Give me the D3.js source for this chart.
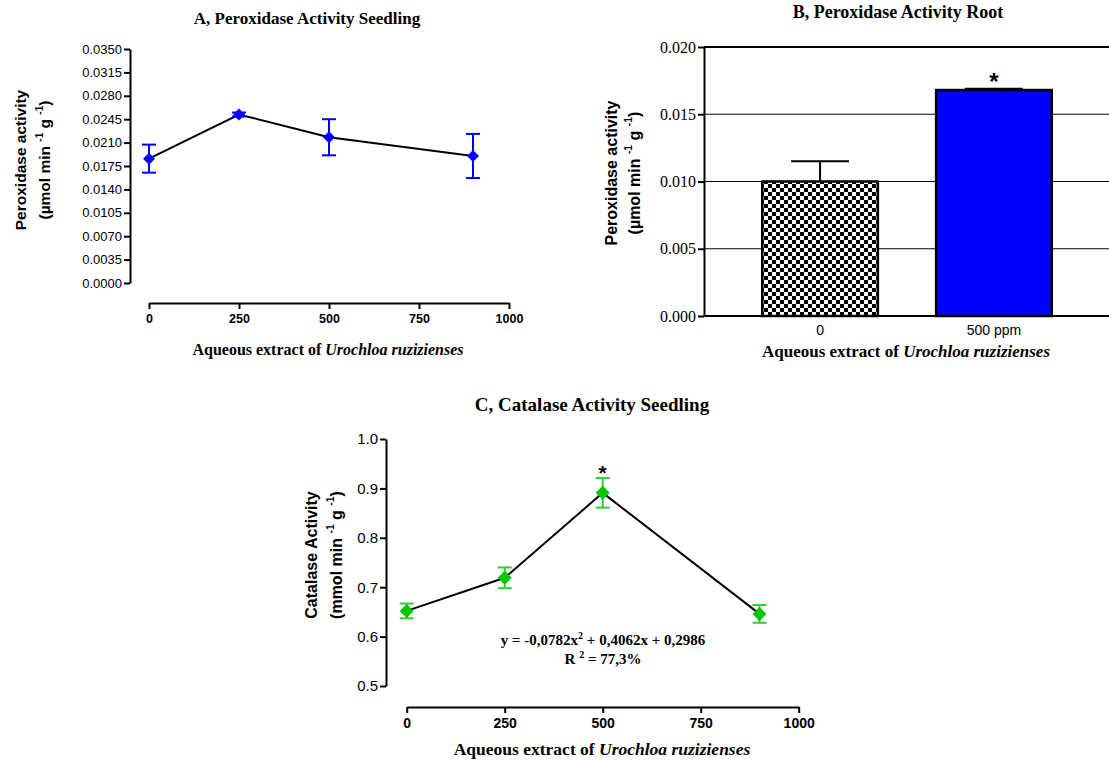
<!DOCTYPE html>
<meta charset="utf-8">
<head>
<style>
body { margin: 0; background: #fff; }
svg { display: block; }
.sans { font-family: "Liberation Sans", Arial, sans-serif; }
.serif { font-family: "Liberation Serif", "Times New Roman", serif; }
</style>
<script src="https://d3js.org/d3.v7.min.js"></script>
</head>
<body>
<div id="chart"></div>
<script>
// panel A - peroxidase, seedling
var doses = [0, 250, 500, 900];
var podSeedling = [0.0186, 0.0252, 0.0218, 0.0190];
var podSeedlingSE = [0.0021, 0.0003, 0.0027, 0.0033];
var podTicks = [0, 0.0035, 0.0070, 0.0105, 0.0140, 0.0175, 0.0210, 0.0245, 0.0280, 0.0315, 0.0350];

// panel B - peroxidase, root
var rootGroups = ["0", "500 ppm"];
var podRoot = [0.0100, 0.0168];
var podRootSE = [0.0015, 0.0001];
var rootSignif = [false, true];
var rootTicks = [0, 0.005, 0.010, 0.015, 0.020];

// panel C - catalase, seedling
var catSeedling = [0.652, 0.719, 0.891, 0.646];
var catSeedlingSE = [0.015, 0.021, 0.030, 0.018];
var catSignif = [false, false, true, false];
var catTicks = [0.5, 0.6, 0.7, 0.8, 0.9, 1.0];
var doseTicks = [0, 250, 500, 750, 1000];

var width = 1109, height = 760;

var svg = d3.select("#chart").append("svg")
    .attr("width", width)
    .attr("height", height);

var defs = svg.append("defs");
var checker = defs.append("pattern")
    .attr("id", "checker")
    .attr("patternUnits", "userSpaceOnUse")
    .attr("width", 8).attr("height", 8);
checker.append("rect").attr("width", 8).attr("height", 8).attr("fill", "#fff");
checker.append("rect").attr("width", 4).attr("height", 4).attr("fill", "#000");
checker.append("rect").attr("x", 4).attr("y", 4).attr("width", 4).attr("height", 4).attr("fill", "#000");

function diamond(r) {
  return "M0," + (-r) + "L" + r + ",0L0," + r + "L" + (-r) + ",0Z";
}

// x axis title with italic species name
function xTitle(g, x, y, size) {
  var t = g.append("text")
      .attr("class", "serif")
      .attr("x", x).attr("y", y)
      .attr("text-anchor", "middle")
      .attr("font-weight", "bold")
      .attr("font-size", size);
  t.append("tspan").text("Aqueous extract of ");
  t.append("tspan").attr("font-style", "italic").text("Urochloa ruzizienses");
}

// two line rotated y title with superscripts
function yTitle(g, x1, x2, y, size, line1, unit) {
  g.append("text")
      .attr("class", "sans")
      .attr("transform", "translate(" + x1 + "," + y + ") rotate(-90)")
      .attr("text-anchor", "middle")
      .attr("font-weight", "bold")
      .attr("font-size", size)
      .attr("dy", "0.35em")
      .text(line1);
  var t = g.append("text")
      .attr("class", "sans")
      .attr("transform", "translate(" + x2 + "," + y + ") rotate(-90)")
      .attr("text-anchor", "middle")
      .attr("font-weight", "bold")
      .attr("font-size", size)
      .attr("dy", "0.35em");
  t.append("tspan").text("(" + unit + " min ");
  t.append("tspan").attr("dy", -size * 0.45).attr("font-size", size * 0.65).text("-1");
  t.append("tspan").attr("dy", size * 0.45).text(" g ");
  t.append("tspan").attr("dy", -size * 0.45).attr("font-size", size * 0.65).text("-1");
  t.append("tspan").attr("dy", size * 0.45).text(")");
}

function styleAxis(g, w) {
  g.select(".domain").attr("stroke", "#000").attr("stroke-width", w);
  g.selectAll(".tick line").attr("stroke", "#000").attr("stroke-width", w);
}

function linePanel(opt) {
  var g = svg.append("g");
  var x = d3.scaleLinear().domain([0, 1000]).range(opt.xRange);
  var y = d3.scaleLinear().domain(opt.yDomain).range(opt.yRange);

  var yAxis = g.append("g")
      .attr("transform", "translate(" + opt.yAxisX + ",0)")
      .call(d3.axisLeft(y).tickValues(opt.yTicks).tickFormat(d3.format(opt.yFormat)).tickSize(6).tickSizeOuter(0).tickPadding(2));
  styleAxis(yAxis, 2);
  yAxis.selectAll("text").attr("class", "sans").attr("font-size", opt.yTickSize).attr("fill", "#000");

  var xAxis = g.append("g")
      .attr("transform", "translate(0," + opt.xAxisY + ")")
      .call(d3.axisBottom(x).tickValues(doseTicks).tickFormat(d3.format("d")).tickSize(6).tickSizeOuter(0).tickPadding(5));
  styleAxis(xAxis, 2);
  xAxis.selectAll("text").attr("class", "sans").attr("font-weight", "bold")
      .attr("font-size", opt.xTickSize).attr("fill", "#000");

  var pts = doses.map(function(d, i) {
    return {dose: d, v: opt.values[i], se: opt.se[i], sig: opt.signif ? opt.signif[i] : false};
  });

  g.append("path")
      .datum(pts)
      .attr("fill", "none")
      .attr("stroke", "#000")
      .attr("stroke-width", 2)
      .attr("d", d3.line().x(function(d) { return x(d.dose); }).y(function(d) { return y(d.v); }));

  var cap = opt.cap;
  var eb = g.selectAll(".eb").data(pts).enter().append("g")
      .attr("stroke", opt.barColor).attr("stroke-width", opt.barWidth).attr("fill", "none");
  eb.append("line")
      .attr("x1", function(d) { return x(d.dose); }).attr("x2", function(d) { return x(d.dose); })
      .attr("y1", function(d) { return y(d.v - d.se); }).attr("y2", function(d) { return y(d.v + d.se); });
  eb.append("line")
      .attr("x1", function(d) { return x(d.dose) - cap; }).attr("x2", function(d) { return x(d.dose) + cap; })
      .attr("y1", function(d) { return y(d.v + d.se); }).attr("y2", function(d) { return y(d.v + d.se); });
  eb.append("line")
      .attr("x1", function(d) { return x(d.dose) - cap; }).attr("x2", function(d) { return x(d.dose) + cap; })
      .attr("y1", function(d) { return y(d.v - d.se); }).attr("y2", function(d) { return y(d.v - d.se); });

  g.selectAll(".mk").data(pts).enter().append("path")
      .attr("transform", function(d) { return "translate(" + x(d.dose) + "," + y(d.v) + ")"; })
      .attr("d", diamond(opt.markR))
      .attr("fill", opt.markColor);

  g.selectAll(".sig").data(pts.filter(function(d) { return d.sig; })).enter().append("text")
      .attr("class", "sans")
      .attr("x", function(d) { return x(d.dose); })
      .attr("y", function(d) { return y(d.v + d.se) + 2; })
      .attr("text-anchor", "middle")
      .attr("font-weight", "bold")
      .attr("font-size", 21)
      .text("*");

  g.append("text")
      .attr("class", "serif")
      .attr("x", opt.title[1]).attr("y", opt.title[2])
      .attr("text-anchor", "middle")
      .attr("font-weight", "bold")
      .attr("font-size", opt.title[3])
      .text(opt.title[0]);

  xTitle(g, opt.xt[0], opt.xt[1], opt.xt[2]);
  yTitle(g, opt.yt[0], opt.yt[1], opt.yt[2], opt.yt[3], opt.yt[4], opt.yt[5]);
  return {g: g, x: x, y: y};
}

// A
linePanel({
  values: podSeedling, se: podSeedlingSE,
  xRange: [149, 509], yDomain: [0, 0.035], yRange: [283, 49],
  yAxisX: 130, xAxisY: 303, yTicks: podTicks, yFormat: ".4f",
  yTickSize: 13, xTickSize: 12.5,
  barColor: "#0000ff", barWidth: 2, cap: 7, markR: 6, markColor: "#0000ff",
  title: ["A, Peroxidase Activity Seedling", 307, 24, 17],
  xt: [328, 355, 16],
  yt: [21, 45, 160, 15.5, "Peroxidase activity", "\u00b5mol"]
});

// C
var pc = linePanel({
  values: catSeedling, se: catSeedlingSE, signif: catSignif,
  xRange: [406.7, 798.7], yDomain: [0.5, 1.0], yRange: [686, 439],
  yAxisX: 386, xAxisY: 707, yTicks: catTicks, yFormat: ".1f",
  yTickSize: 15, xTickSize: 14,
  barColor: "#33cc33", barWidth: 2, cap: 7, markR: 7, markColor: "#00c800",
  title: ["C, Catalase Activity Seedling", 592, 411, 19],
  xt: [602, 755, 17.5],
  yt: [311, 336, 555, 16, "Catalase Activity", "mmol"]
});

var eq = pc.g.append("text").attr("class", "serif")
    .attr("x", 603).attr("y", 645).attr("text-anchor", "middle")
    .attr("font-weight", "bold").attr("font-size", 15);
eq.append("tspan").text("y = -0,0782x");
eq.append("tspan").attr("dy", -6).attr("font-size", 10).text("2");
eq.append("tspan").attr("dy", 6).text(" + 0,4062x + 0,2986");
var r2 = pc.g.append("text").attr("class", "serif")
    .attr("x", 603).attr("y", 664).attr("text-anchor", "middle")
    .attr("font-weight", "bold").attr("font-size", 15);
r2.append("tspan").text("R ");
r2.append("tspan").attr("dy", -6).attr("font-size", 10).text("2");
r2.append("tspan").attr("dy", 6).text(" = 77,3%");

// B
var gb = svg.append("g");
var xb = d3.scaleBand().domain(rootGroups).range([704, 1110]).padding(0.335);
var yb = d3.scaleLinear().domain([0, 0.02]).range([316, 47]);

gb.selectAll(".grid").data(rootTicks.slice(1)).enter().append("line")
    .attr("x1", 704).attr("x2", width)
    .attr("y1", function(d) { return yb(d); }).attr("y2", function(d) { return yb(d); })
    .attr("stroke", "#000")
    .attr("stroke-width", function(d) { return d === 0.02 ? 2 : 1.2; });

var byAxis = gb.append("g")
    .attr("transform", "translate(704,0)")
    .call(d3.axisLeft(yb).tickValues(rootTicks).tickFormat(d3.format(".3f")).tickSize(6).tickSizeOuter(0).tickPadding(2));
styleAxis(byAxis, 2);
byAxis.selectAll("text").attr("class", "serif").attr("font-size", 16).attr("fill", "#000");

var bxAxis = gb.append("g")
    .attr("transform", "translate(0,316)")
    .call(d3.axisBottom(xb).tickSize(0).tickPadding(9));
bxAxis.select(".domain").remove();
bxAxis.selectAll("text").attr("class", "sans").attr("font-size", 14).attr("fill", "#000");
gb.append("line").attr("x1", 704).attr("x2", width).attr("y1", 316).attr("y2", 316)
    .attr("stroke", "#000").attr("stroke-width", 2);

var rootData = rootGroups.map(function(c, i) {
  return {c: c, v: podRoot[i], se: podRootSE[i], sig: rootSignif[i]};
});

var bw = xb.bandwidth();
gb.selectAll(".ebb").data(rootData).enter().append("g")
    .attr("stroke", "#000").attr("stroke-width", 2)
    .each(function(d) {
      var cx = xb(d.c) + bw / 2;
      d3.select(this).append("line").attr("x1", cx).attr("x2", cx).attr("y1", yb(d.v)).attr("y2", yb(d.v + d.se));
      d3.select(this).append("line").attr("x1", cx - bw / 4).attr("x2", cx + bw / 4)
          .attr("y1", yb(d.v + d.se)).attr("y2", yb(d.v + d.se));
    });

gb.selectAll(".bar").data(rootData).enter().append("rect")
    .attr("x", function(d) { return xb(d.c); })
    .attr("y", function(d) { return yb(d.v); })
    .attr("width", bw)
    .attr("height", function(d) { return yb(0) - yb(d.v); })
    .attr("fill", function(d, i) { return i === 0 ? "url(#checker)" : "#0000ff"; })
    .attr("stroke", "#000").attr("stroke-width", 2.5);

gb.selectAll(".sigb").data(rootData.filter(function(d) { return d.sig; })).enter().append("text")
    .attr("class", "sans")
    .attr("x", function(d) { return xb(d.c) + bw / 2; })
    .attr("y", function(d) { return yb(d.v + d.se) + 1; })
    .attr("text-anchor", "middle")
    .attr("font-weight", "bold").attr("font-size", 24)
    .text("*");

gb.append("text").attr("class", "serif")
    .attr("x", 898).attr("y", 18).attr("text-anchor", "middle")
    .attr("font-weight", "bold").attr("font-size", 18)
    .text("B, Peroxidase Activity Root");
xTitle(gb, 906, 357, 17);
yTitle(gb, 611, 634, 173, 16, "Peroxidase activity", "\u00b5mol");
</script>
</body>
